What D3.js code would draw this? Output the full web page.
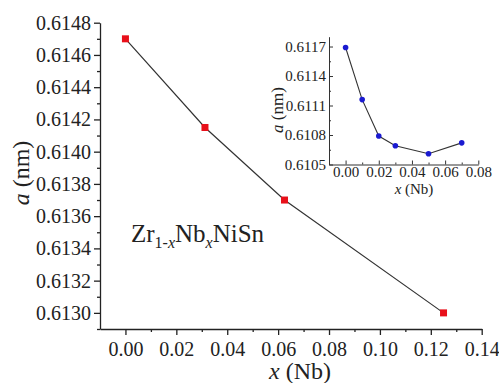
<!DOCTYPE html>
<html>
<head>
<meta charset="utf-8">
<script src="https://cdn.jsdelivr.net/npm/d3@7"></script>
<style>
body { margin: 0; background: #fff; }
</style>
</head>
<body>
<svg></svg>
<script>
var width = 499;
var height = 383;
var svg = d3.select("svg");
svg.attr('width', width).attr('height', height);

// main data: Zr1-xNbxNiSn
var mainX = [0, 0.03125, 0.0625, 0.125];
var mainA = [0.6147, 0.61415, 0.6137, 0.6130];
var mainXTicks = [0, 0.02, 0.04, 0.06, 0.08, 0.10, 0.12, 0.14];
var mainYTicks = [0.6130, 0.6132, 0.6134, 0.6136, 0.6138, 0.6140, 0.6142, 0.6144, 0.6146, 0.6148];

// inset data
var insetX = [0, 0.01, 0.02, 0.03, 0.05, 0.07];
var insetA = [0.61169, 0.61116, 0.61079, 0.61069, 0.61061, 0.61072];
var insetXTicks = [0, 0.02, 0.04, 0.06, 0.08];
var insetYTicks = [0.6105, 0.6108, 0.6111, 0.6114, 0.6117];

var serif = '"Times New Roman", "Liberation Serif", serif';

var xScale = d3.scaleLinear().domain([-0.01, 0.14]).range([100, 481.7]);
var yScale = d3.scaleLinear().domain([0.6129, 0.6148]).range([329, 22.7]);

function minorBetween(ticks) {
  var out = [];
  for (var i = 0; i < ticks.length - 1; i++) out.push((ticks[i] + ticks[i + 1]) / 2);
  return out;
}

var ax = svg.append('g');

// x axis
ax.append('g')
  .attr('transform', 'translate(0,329)')
  .call(d3.axisBottom(xScale).tickValues(mainXTicks).tickFormat(d3.format('.2f')).tickSize(6).tickSizeOuter(0))
  .call(function(g) {
    g.selectAll('text').attr('font-size', 20).attr('dy', '0.9em');
  });
ax.append('g')
  .attr('transform', 'translate(0,329)')
  .call(d3.axisBottom(xScale).tickValues(minorBetween([-0.02].concat(mainXTicks)).filter(function(d) { return d > -0.01; })).tickFormat('').tickSize(3).tickSizeOuter(0))
  .select('.domain').remove();

// y axis
ax.append('g')
  .attr('transform', 'translate(100,0)')
  .call(d3.axisLeft(yScale).tickValues(mainYTicks).tickFormat(d3.format('.4f')).tickSize(6).tickSizeOuter(0))
  .call(function(g) {
    g.selectAll('text').attr('font-size', 20).attr('x', -9);
  });
ax.append('g')
  .attr('transform', 'translate(100,0)')
  .call(d3.axisLeft(yScale).tickValues(minorBetween([0.6128].concat(mainYTicks))).tickFormat('').tickSize(3).tickSizeOuter(0))
  .select('.domain').remove();

ax.selectAll('.domain, .tick line').attr('stroke', '#222').attr('stroke-width', 1.3);

// axis titles
svg.append('text')
  .attr('x', 300).attr('y', 379)
  .attr('text-anchor', 'middle').attr('font-size', 24)
  .html('<tspan font-style="italic">x</tspan> (Nb)');
svg.append('text')
  .attr('transform', 'translate(29,173) rotate(-90)')
  .attr('text-anchor', 'middle').attr('font-size', 24)
  .html('<tspan font-style="italic">a</tspan> (nm)');

// compound label
svg.append('text')
  .attr('x', 131).attr('y', 242).attr('font-size', 25)
  .html('Zr<tspan font-size="16" dy="6">1-</tspan><tspan font-size="16" font-style="italic">x</tspan><tspan dy="-6">Nb</tspan><tspan font-size="16" font-style="italic" dy="6">x</tspan><tspan dy="-6">NiSn</tspan>');

var mainPts = mainX.map(function(d, i) { return [d, mainA[i]]; });
svg.append('path')
  .datum(mainPts)
  .attr('fill', 'none').attr('stroke', '#333').attr('stroke-width', 1.2)
  .attr('d', d3.line().x(function(d) { return xScale(d[0]); }).y(function(d) { return yScale(d[1]); }));
svg.selectAll('rect.pt')
  .data(mainPts)
  .enter()
  .append('rect')
  .attr('class', 'pt')
  .attr('x', function(d) { return xScale(d[0]) - 3.5; })
  .attr('y', function(d) { return yScale(d[1]) - 3.5; })
  .attr('width', 7).attr('height', 7)
  .attr('fill', '#e8101a');

// inset
var ixScale = d3.scaleLinear().domain([-0.01, 0.08]).range([329, 478.3]);
var iyScale = d3.scaleLinear().domain([0.6105, 0.6118]).range([164.5, 36.7]);

var iax = svg.append('g');
iax.append('g')
  .attr('transform', 'translate(0,164.5)')
  .call(d3.axisBottom(ixScale).tickValues(insetXTicks).tickFormat(d3.format('.2f')).tickSize(-4).tickSizeOuter(0))
  .call(function(g) {
    g.selectAll('text').attr('font-size', 15).attr('y', 2).attr('dy', '0.71em');
  });
iax.append('g')
  .attr('transform', 'translate(0,164.5)')
  .call(d3.axisBottom(ixScale).tickValues([0.01, 0.03, 0.05, 0.07]).tickFormat('').tickSize(-2).tickSizeOuter(0))
  .select('.domain').remove();
iax.append('g')
  .attr('transform', 'translate(329,0)')
  .call(d3.axisLeft(iyScale).tickValues(insetYTicks).tickFormat(d3.format('.4f')).tickSize(-4).tickSizeOuter(0))
  .call(function(g) {
    g.selectAll('text').attr('font-size', 15).attr('x', -3);
  });
iax.append('g')
  .attr('transform', 'translate(329,0)')
  .call(d3.axisLeft(iyScale).tickValues(minorBetween(insetYTicks)).tickFormat('').tickSize(-2).tickSizeOuter(0))
  .select('.domain').remove();
iax.selectAll('.domain, .tick line').attr('stroke', '#333').attr('stroke-width', 1);

svg.append('text')
  .attr('x', 414).attr('y', 194)
  .attr('text-anchor', 'middle').attr('font-size', 15)
  .html('<tspan font-style="italic">x</tspan> (Nb)');
svg.append('text')
  .attr('transform', 'translate(283,110) rotate(-90)')
  .attr('text-anchor', 'middle').attr('font-size', 17)
  .html('<tspan font-style="italic">a</tspan> (nm)');

var insetPts = insetX.map(function(d, i) { return [d, insetA[i]]; });
svg.append('path')
  .datum(insetPts)
  .attr('fill', 'none').attr('stroke', '#333').attr('stroke-width', 1.1)
  .attr('d', d3.line().x(function(d) { return ixScale(d[0]); }).y(function(d) { return iyScale(d[1]); }));
svg.selectAll('circle')
  .data(insetPts)
  .enter()
  .append('circle')
  .attr('cx', function(d) { return ixScale(d[0]); })
  .attr('cy', function(d) { return iyScale(d[1]); })
  .attr('r', 2.8)
  .attr('fill', '#1a1ad0');

// force the serif face on every label, axis ones included
svg.selectAll('g').attr('font-family', null);
svg.selectAll('text').style('font-family', serif).style('fill', '#222');
</script>
</body>
</html>
